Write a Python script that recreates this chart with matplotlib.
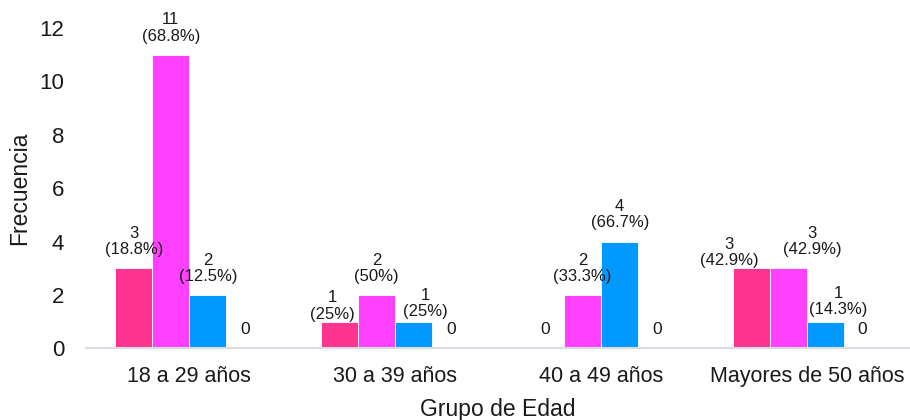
import matplotlib
matplotlib.use("Agg")
import matplotlib.pyplot as plt
import numpy as np

plt.rcParams['font.family'] = ['Liberation Sans', 'DejaVu Sans']

groups = ["18 a 29 años", "30 a 39 años", "40 a 49 años", "Mayores de 50 años"]
serie_a = [3, 1, 0, 3]
serie_b = [11, 2, 2, 3]
serie_c = [2, 1, 4, 1]
serie_d = [0, 0, 0, 0]
colors = ["#FF3390", "#FF40FF", "#0099FF", "#A6A6A6"]

series = [serie_a, serie_b, serie_c, serie_d]
totals = np.sum(series, axis=0)

# label offsets (points) for labels that would otherwise collide: (dx, dy)
nudges = {(0, 1): (-5, 0), (2, 1): (8, 1.5), (0, 3): (-16, 0),
          (1, 3): (17, 8), (2, 3): (9, 3)}

fig = plt.figure(figsize=(9.1, 4.2), dpi=100)
ax = fig.add_axes([0.095, 0.171, 0.905, 0.762])

x = np.arange(len(groups))
w = 0.18
offsets = [-1.5 * w, -0.5 * w, 0.5 * w, 1.5 * w]

def fmt_pct(v):
    return f"{round(v, 1):g}%"

for si, (vals, off, col) in enumerate(zip(series, offsets, colors)):
    ax.bar(x + off, vals, width=w, color=col, edgecolor="white", linewidth=0.6, zorder=2)
    for gi, (xi, v, t) in enumerate(zip(x + off, vals, totals)):
        if v == 0:
            label, size = "0", 12.5
        else:
            label, size = f"{v}\n({fmt_pct(100 * v / t)})", 12
        dx, dy = nudges.get((si, gi), (0, 8))
        ax.annotate(label, (xi, v), xytext=(dx, dy), textcoords="offset points",
                    ha="center", va="bottom", fontsize=size, color="#1a1a1a",
                    linespacing=1.1, zorder=3)

ax.set_xlim(-0.5, 3.5)
ax.set_ylim(0, 12)
ax.set_yticks(range(0, 13, 2))
ax.set_xticks(x)
ax.set_xticklabels(groups)
ax.tick_params(axis="x", length=0, labelsize=15.5, colors="#1a1a1a", pad=13)
ax.tick_params(axis="y", length=0, labelsize=16, colors="#1a1a1a", pad=16)

for s in ["top", "right", "left"]:
    ax.spines[s].set_visible(False)
ax.spines["bottom"].set_color("#D9DCE3")
ax.spines["bottom"].set_linewidth(1.5)

ax.set_xlabel("Grupo de Edad", fontsize=16.5, color="#1a1a1a", labelpad=8)
ax.set_ylabel("Frecuencia", fontsize=16.5, color="#1a1a1a", labelpad=6)

fig.savefig("out.png", dpi=100)
